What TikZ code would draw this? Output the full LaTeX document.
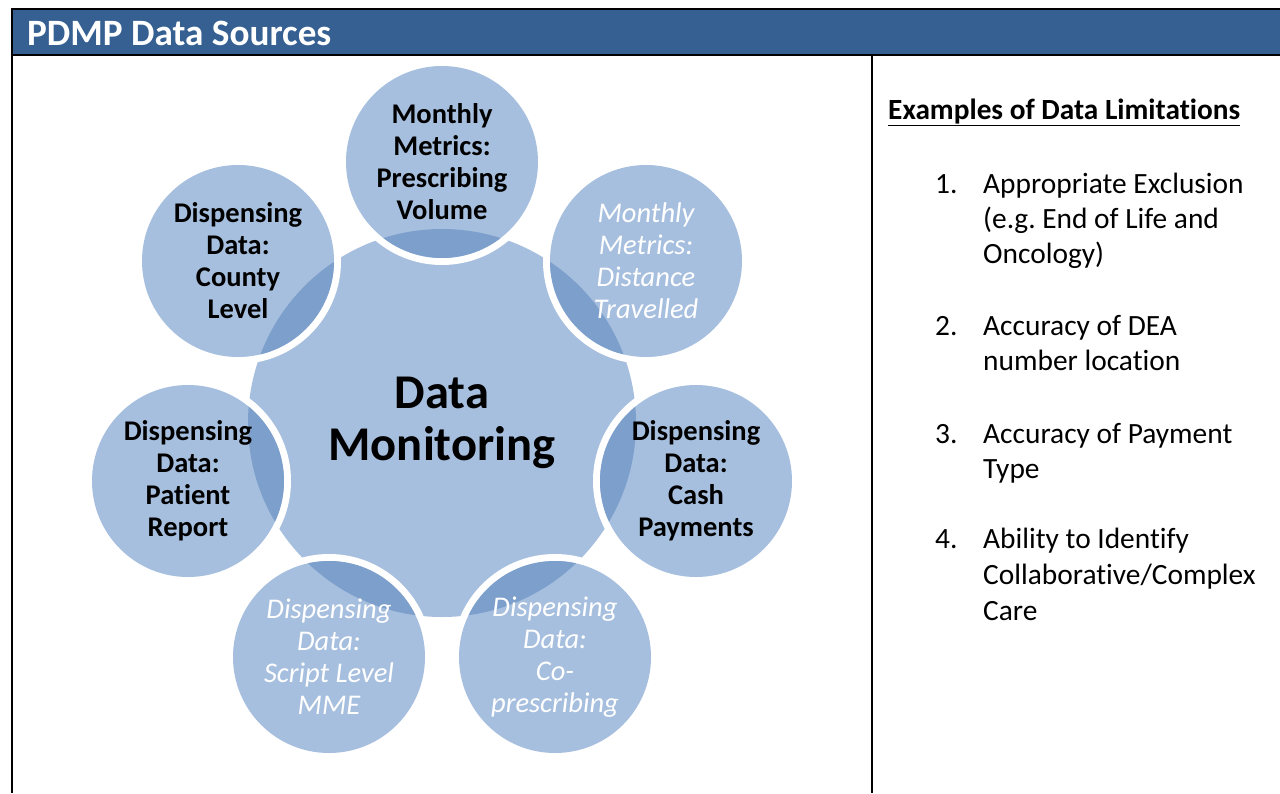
\documentclass[tikz,border=0pt]{standalone}
\usepackage{fontspec}
\setmainfont{Carlito}[Ligatures=NoCommon]
\frenchspacing
\definecolor{hdrblue}{HTML}{366092}
\definecolor{lightb}{RGB}{167,191,222}
\definecolor{darkb}{RGB}{124,159,204}
\begin{document}
\begin{tikzpicture}[x=1pt,y=-1pt,
  bigc/.style={circle, minimum size=388pt, inner sep=0pt, fill=lightb, align=center,
    font=\bfseries\fontsize{48.5}{52}\selectfont},
  smallc/.style={circle, minimum size=192pt, inner sep=0pt, fill=lightb, align=center,
    preaction={draw=white, line width=14pt},
    path picture={\fill[darkb] (C.center) circle (194pt);},
    font=\bfseries\fontsize{28.5}{32}\selectfont},
  ital/.style={font=\itshape\fontsize{28.5}{32}\selectfont, text=white},
  listtxt/.style={anchor=base west, inner sep=0pt, font=\fontsize{29.4}{34}\selectfont},
  rule/.style={line width=2.2pt, black}]
\useasboundingbox (0,0) rectangle (1280,793);
% header
\fill[hdrblue] (12,9) rectangle (1280,55);
\draw[rule] (11,9) -- (1280,9);
\draw[rule] (11,55) -- (1280,55);
\draw[rule] (12,8) -- (12,793);
\draw[rule] (872,55) -- (872,793);
\node[anchor=base west, inner sep=0pt, text=white, font=\bfseries\fontsize{37.2}{40}\selectfont] (title) at (27,45) {PDMP Data Sources};
% diagram
\node[bigc] (C) at (442,423) {Data\\Monitoring};
\node[smallc] (s1) at (442,162) {Monthly\\Metrics:\\Prescribing\\Volume};
\node[smallc, ital] (s2) at (646,261) {Monthly\\Metrics:\\Distance\\Travelled};
\node[smallc] (s3) at (696,481) {Dispensing\\Data:\\Cash\\Payments};
\node[smallc, ital] (s4) at (555,657) {Dispensing\\Data:\\Co-\\prescribing};
\node[smallc, ital] (s5) at (329,657) {Dispensing\\Data:\\Script Level\\MME};
\node[smallc] (s6) at (188,481) {Dispensing\\Data:\\Patient\\Report};
\node[smallc] (s7) at (238,261) {Dispensing\\Data:\\County\\Level};
% right panel
\node[anchor=base west, inner sep=0pt, font=\bfseries\fontsize{29.3}{32}\selectfont] (head) at (888,119) {\underline{Examples of Data Limitations}};
\node[listtxt] (n1) at (935,193) {1.};
\node[listtxt] (a1) at (983,193) {Appropriate Exclusion};
\node[listtxt] (a2) at (983,228) {(e.g. End of Life and};
\node[listtxt] (a3) at (983,263) {Oncology)};
\node[listtxt] (n2) at (935,335) {2.};
\node[listtxt] (b1) at (983,335) {Accuracy of DEA};
\node[listtxt] (b2) at (983,370) {number location};
\node[listtxt] (n3) at (935,443) {3.};
\node[listtxt] (c1) at (983,443) {Accuracy of Payment};
\node[listtxt] (c2) at (983,478) {Type};
\node[listtxt] (n4) at (935,548) {4.};
\node[listtxt] (d1) at (983,548) {Ability to Identify};
\node[listtxt] (d2) at (983,584) {Collaborative/Complex};
\node[listtxt] (d3) at (983,620) {Care};
\end{tikzpicture}
\end{document}
